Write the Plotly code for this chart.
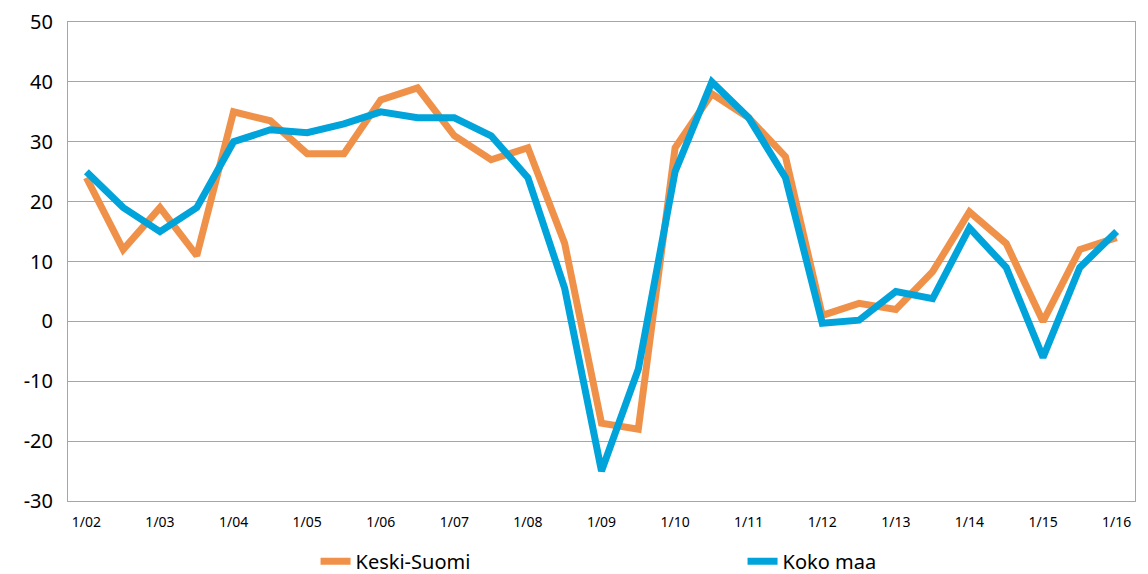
import plotly.graph_objects as go

periods = ["1/02", "7/02", "1/03", "7/03", "1/04", "7/04", "1/05", "7/05", "1/06", "7/06",
           "1/07", "7/07", "1/08", "7/08", "1/09", "7/09", "1/10", "7/10", "1/11", "7/11",
           "1/12", "7/12", "1/13", "7/13", "1/14", "7/14", "1/15", "7/15", "1/16"]
keski_suomi = [24, 12, 19, 11, 35, 33.5, 28, 28, 37, 39,
               31, 27, 29, 13, -17, -18, 29, 38, 34, 27.5,
               1, 3, 2, 8.3, 18.3, 13, 0, 12, 14]
koko_maa = [25, 19, 15, 19, 30, 32, 31.5, 33, 35, 34,
            34, 31, 24, 5.5, -25, -8, 25, 40, 34, 24,
            -0.3, 0.2, 5, 3.8, 15.6, 9, -6, 9, 15]
tick_labels = ["1/02", "1/03", "1/04", "1/05", "1/06", "1/07", "1/08", "1/09",
               "1/10", "1/11", "1/12", "1/13", "1/14", "1/15", "1/16"]
y_ticks = [-30, -20, -10, 0, 10, 20, 30, 40, 50]
y_tick_text = ["-30", "-20", "-10", "0", "10", "20", "30", "40", "50"]

idx = list(range(len(periods)))

fig = go.Figure()
fig.add_trace(go.Scatter(x=idx, y=keski_suomi, mode="lines", name="Keski-Suomi",
                         line=dict(color="#F0914A", width=7), customdata=periods))
fig.add_trace(go.Scatter(x=idx, y=koko_maa, mode="lines", name="Koko maa",
                         line=dict(color="#00A3DA", width=7), customdata=periods))

fig.update_layout(
    width=1148, height=574,
    margin=dict(l=68, r=13, t=22, b=73, autoexpand=False),
    paper_bgcolor="white", plot_bgcolor="white",
    font=dict(family="Noto Sans, DejaVu Sans, sans-serif", color="#000000"),
    showlegend=True,
    legend=dict(orientation="h", x=0.232, xanchor="left", y=-0.085, yanchor="top",
                font=dict(size=20), itemwidth=30, entrywidth=382, entrywidthmode="pixels",
                traceorder="normal", bgcolor="rgba(0,0,0,0)"),
)
fig.update_xaxes(
    range=[-0.5, len(periods) - 0.5],
    tickmode="array",
    tickvals=[periods.index(t) for t in tick_labels],
    ticktext=tick_labels,
    tickfont=dict(size=14),
    showgrid=False, zeroline=False,
    showline=True, linecolor="#A6A6A6", linewidth=1, mirror=True,
    ticks="", ticklabelstandoff=8,
)
fig.update_yaxes(
    range=[-30, 50],
    tickmode="array", tickvals=y_ticks, ticktext=y_tick_text,
    tickfont=dict(size=20),
    showgrid=True, gridcolor="#A6A6A6", gridwidth=1,
    zeroline=False,
    showline=True, linecolor="#A6A6A6", linewidth=1, mirror=True,
    ticks="", ticklabelstandoff=10,
)

fig.write_html("out.html", config={"displayModeBar": False},
               post_script="document.body.style.margin='0';document.body.style.overflow='hidden';")
